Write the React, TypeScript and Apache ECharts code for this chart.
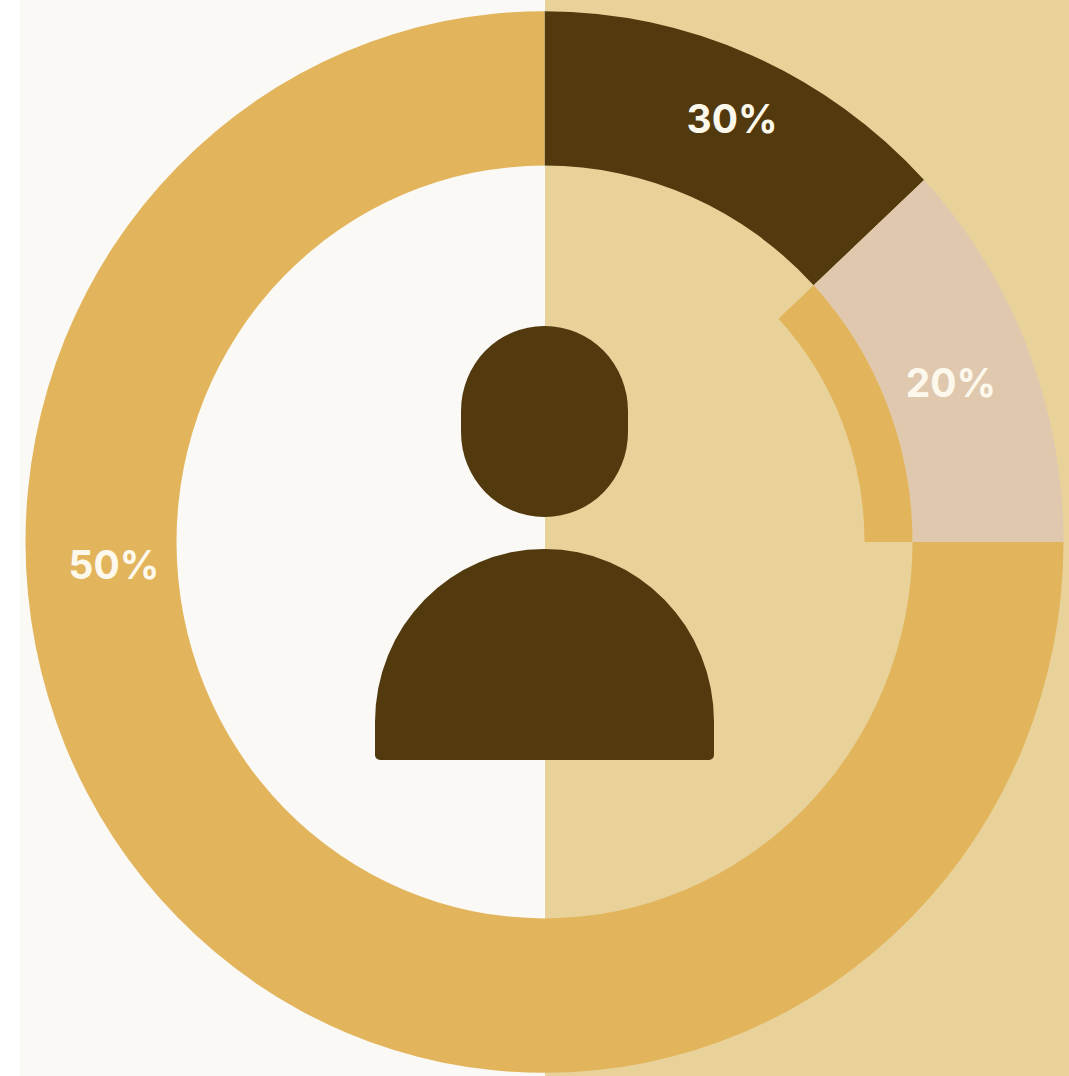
import React, { useEffect, useRef } from "react";
import * as echarts from "echarts";

// Drawn sweep of each ring sector (degrees of the full turn) and its printed label
const sliceNames = ["A", "B", "C"];
const sliceSweeps = [47, 43, 270];
const sliceLabels = ["30%", "20%", "50%"];
// Thin inner arc: sweep and remainder
const innerArcSweeps = [43, 317];

const WIDTH = 1069;
const HEIGHT = 1076;
const DRAW_H = 1052;
const SY = HEIGHT / DRAW_H;
const y = (v: number) => v / SY;

const labelAnchors = [
  [732, 119],
  [951, 383],
  [114, 565],
];

const GOLD = "#E2B55C";
const DARK = "#523A0E";
const BEIGE = "#DFC8AE";
const LEFT_BG = "#FBF9F5";
const RIGHT_BG = "#E8D29A";
const sliceColors = [DARK, BEIGE, GOLD];

export default function App() {
  const ref = useRef<HTMLDivElement>(null);
  useEffect(() => {
    document.body.style.margin = "0";
    const chart = echarts.init(ref.current!, undefined, { renderer: "svg" });
    chart.setOption({
      animation: false,
      backgroundColor: "#FFFFFF",
      graphic: [
        { type: "rect", z: 0, shape: { x: 20, y: 0, width: 525, height: DRAW_H }, style: { fill: LEFT_BG } },
        { type: "rect", z: 0, shape: { x: 545, y: 0, width: 524, height: DRAW_H }, style: { fill: RIGHT_BG } },
        {
          type: "rect",
          z: 20,
          shape: { x: 461, y: y(326), width: 167, height: y(517) - y(326), r: 83 },
          style: { fill: DARK },
        },
        {
          type: "rect",
          z: 20,
          shape: { x: 375, y: y(549), width: 339, height: y(760) - y(549), r: [169, 169, 5, 5] },
          style: { fill: DARK },
        },
      ],
      series: [
        {
          type: "pie",
          z: 3,
          silent: true,
          center: [544.5, y(542)],
          radius: [320, 368],
          startAngle: 43,
          clockwise: true,
          label: { show: false },
          labelLine: { show: false },
          data: innerArcSweeps.map((v, i) => ({
            name: i === 0 ? "inner" : "rest",
            value: v,
            itemStyle: { color: i === 0 ? GOLD : "transparent" },
          })),
        },
        {
          type: "pie",
          z: 2,
          silent: true,
          center: [544.5, y(542)],
          radius: [368, 519],
          startAngle: 90,
          clockwise: true,
          avoidLabelOverlap: false,
          label: {
            show: true,
            position: "inside",
            formatter: (p: any) => sliceLabels[p.dataIndex],
            color: "#FDF8EC",
            fontFamily: "Inter",
            fontWeight: 700,
            fontSize: 39,
          },
          labelLine: { show: false },
          labelLayout: (p: any) => ({
            x: labelAnchors[p.dataIndex][0],
            y: y(labelAnchors[p.dataIndex][1]),
            align: "center",
            verticalAlign: "middle",
          }),
          data: sliceSweeps.map((v, i) => ({
            name: sliceNames[i],
            value: v,
            itemStyle: { color: sliceColors[i] },
          })),
        },
      ],
    });
    return () => chart.dispose();
  }, []);
  return (
    <div
      ref={ref}
      style={{
        position: "absolute",
        left: 0,
        top: 0,
        width: WIDTH,
        height: DRAW_H,
        transform: `scaleY(${SY})`,
        transformOrigin: "0 0",
      }}
    />
  );
}
